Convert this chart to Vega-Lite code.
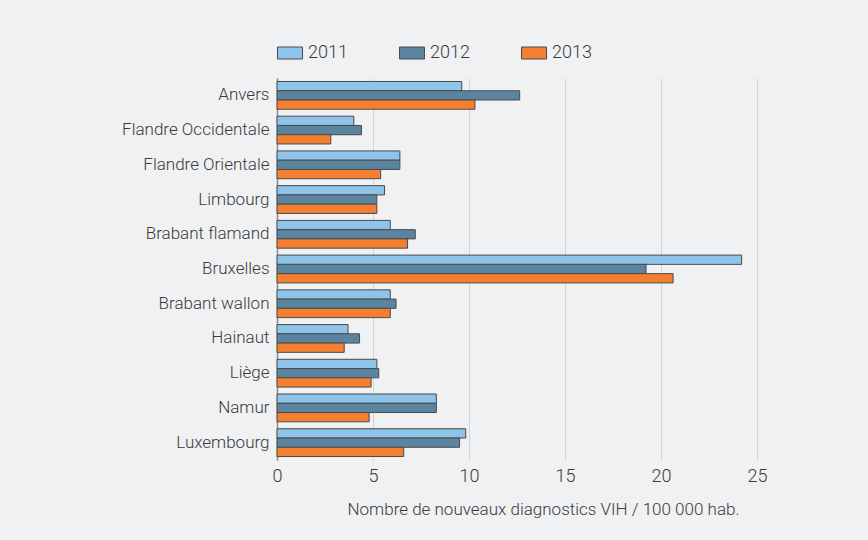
{
  "$schema": "https://vega.github.io/schema/vega-lite/v6.json",
  "autosize": "none",
  "padding": {"left": 277, "top": 78, "right": 111, "bottom": 80},
  "width": 480,
  "height": 382,
  "background": "#f0f1f3",
  "config": {
    "view": {"stroke": null},
    "font": "Roboto, sans-serif"
  },
  "data": {
    "values": [
      {"region": "Anvers", "year": "2011", "value": 9.62},
      {"region": "Anvers", "year": "2012", "value": 12.64},
      {"region": "Anvers", "year": "2013", "value": 10.31},
      {"region": "Flandre Occidentale", "year": "2011", "value": 4.0},
      {"region": "Flandre Occidentale", "year": "2012", "value": 4.4},
      {"region": "Flandre Occidentale", "year": "2013", "value": 2.8},
      {"region": "Flandre Orientale", "year": "2011", "value": 6.4},
      {"region": "Flandre Orientale", "year": "2012", "value": 6.4},
      {"region": "Flandre Orientale", "year": "2013", "value": 5.4},
      {"region": "Limbourg", "year": "2011", "value": 5.6},
      {"region": "Limbourg", "year": "2012", "value": 5.2},
      {"region": "Limbourg", "year": "2013", "value": 5.2},
      {"region": "Brabant flamand", "year": "2011", "value": 5.9},
      {"region": "Brabant flamand", "year": "2012", "value": 7.2},
      {"region": "Brabant flamand", "year": "2013", "value": 6.8},
      {"region": "Bruxelles", "year": "2011", "value": 24.2},
      {"region": "Bruxelles", "year": "2012", "value": 19.22},
      {"region": "Bruxelles", "year": "2013", "value": 20.63},
      {"region": "Brabant wallon", "year": "2011", "value": 5.9},
      {"region": "Brabant wallon", "year": "2012", "value": 6.2},
      {"region": "Brabant wallon", "year": "2013", "value": 5.9},
      {"region": "Hainaut", "year": "2011", "value": 3.7},
      {"region": "Hainaut", "year": "2012", "value": 4.3},
      {"region": "Hainaut", "year": "2013", "value": 3.5},
      {"region": "Liège", "year": "2011", "value": 5.2},
      {"region": "Liège", "year": "2012", "value": 5.3},
      {"region": "Liège", "year": "2013", "value": 4.9},
      {"region": "Namur", "year": "2011", "value": 8.3},
      {"region": "Namur", "year": "2012", "value": 8.3},
      {"region": "Namur", "year": "2013", "value": 4.8},
      {"region": "Luxembourg", "year": "2011", "value": 9.83},
      {"region": "Luxembourg", "year": "2012", "value": 9.51},
      {"region": "Luxembourg", "year": "2013", "value": 6.6}
    ]
  },
  "mark": {"type": "bar", "stroke": "#4a4a4a", "strokeWidth": 1},
  "encoding": {
    "y": {
      "field": "region",
      "type": "nominal",
      "sort": null,
      "scale": {"paddingInner": 0.2, "paddingOuter": 0.1},
      "axis": {
        "title": null,
        "ticks": false,
        "domain": true,
        "domainColor": "#8a8a8a",
        "domainWidth": 1.5,
        "labelFontSize": 17,
        "labelFontWeight": 300,
        "labelColor": "#3a3a3a",
        "labelPadding": 8
      }
    },
    "yOffset": {"field": "year", "type": "nominal", "scale": {"paddingInner": 0, "paddingOuter": 0}},
    "x": {
      "field": "value",
      "type": "quantitative",
      "scale": {"domain": [0, 25], "nice": false},
      "axis": {
        "title": "Nombre de nouveaux diagnostics VIH / 100 000 hab.",
        "values": [0, 5, 10, 15, 20, 25],
        "domain": false,
        "ticks": false,
        "grid": true,
        "gridColor": "#d2d3d6",
        "gridWidth": 1,
        "labelFlush": false,
        "labelFontSize": 18,
        "labelFontWeight": 300,
        "labelColor": "#3a3a3a",
        "labelPadding": 7,
        "titleFontSize": 17,
        "titleFontWeight": 300,
        "titleColor": "#3a3a3a",
        "titleX": 266,
        "titleY": 54,
        "titleAlign": "center",
        "titleBaseline": "alphabetic"
      }
    },
    "color": {
      "field": "year",
      "type": "nominal",
      "scale": {"domain": ["2011", "2012", "2013"], "range": ["#8fc4ea", "#5b84a0", "#f47f30"]},
      "legend": {
        "title": null,
        "orient": "none",
        "direction": "horizontal",
        "legendX": 0,
        "legendY": -38,
        "symbolType": "M-1,-0.48H1V0.48H-1Z",
        "symbolSize": 625,
        "symbolStrokeColor": "#4a4a4a",
        "symbolStrokeWidth": 1,
        "symbolOpacity": 1,
        "labelFontSize": 18,
        "labelFontWeight": 300,
        "labelColor": "#3a3a3a",
        "labelOffset": 5,
        "columnPadding": 49,
        "gridAlign": "all"
      }
    }
  }
}
